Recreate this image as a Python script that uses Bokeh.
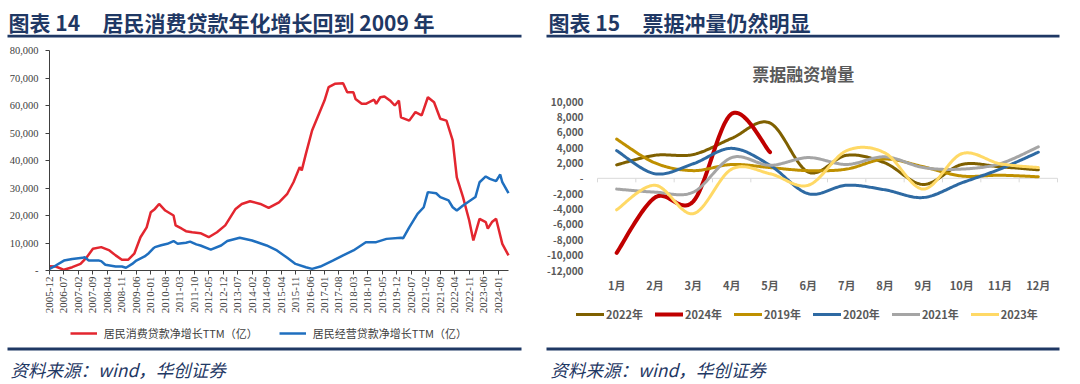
import numpy as np
from bokeh.plotting import figure
from bokeh.models import Range1d, FixedTicker, Label, BoxAnnotation, Legend, LegendItem
from bokeh.layouts import row
from bokeh.embed import file_html
from bokeh.resources import INLINE

# ---------------- 图表14 data ----------------
cons_dates = ["2005-12", "2006-03", "2006-07", "2006-11", "2007-03", "2007-06", "2007-09", "2008-01",
              "2008-05", "2008-08", "2008-11", "2009-02", "2009-05", "2009-08", "2009-11", "2010-01",
              "2010-03", "2010-05", "2010-08", "2010-12", "2011-01", "2011-04", "2011-06", "2011-09",
              "2012-01", "2012-05", "2012-09", "2013-01", "2013-02", "2013-06", "2013-09", "2014-01",
              "2014-06", "2014-10", "2015-03", "2015-07", "2015-10", "2016-01", "2016-02", "2016-04",
              "2016-07", "2016-11", "2017-01", "2017-03", "2017-06", "2017-10", "2017-12", "2018-03",
              "2018-04", "2018-07", "2018-09", "2019-01", "2019-02", "2019-04", "2019-06", "2019-09",
              "2019-11", "2020-01", "2020-02", "2020-06", "2020-09", "2020-12", "2021-03", "2021-06",
              "2021-09", "2021-12", "2022-03", "2022-05", "2022-08", "2022-11", "2023-01", "2023-04",
              "2023-07", "2023-08", "2023-10", "2023-12", "2024-03", "2024-06"]
cons_vals = [1560, 1450, 250, 1200, 2400, 4800, 7900, 8500,
             7300, 5500, 3900, 3900, 6100, 12100, 15700, 21200,
             22400, 24200, 21800, 20000, 16400, 15200, 14300, 13900,
             13560, 12100, 13900, 16400, 17600, 22400, 24200, 25200,
             24200, 22800, 24800, 27900, 32100, 37600, 36400, 42400,
             50900, 58200, 61800, 66700, 67900, 68100, 64800, 64800,
             62400, 60600, 60600, 62100, 60600, 63000, 63300, 61600,
             60000, 61800, 55700, 54500, 57600, 56400, 63000, 61200,
             55200, 54500, 47300, 33900, 26700, 18200, 10900, 18800,
             17600, 15200, 17600, 18800, 9700, 5500]

biz_dates = ["2005-12", "2006-03", "2006-07", "2006-11", "2007-04", "2007-05", "2007-07", "2007-12",
             "2008-01", "2008-03", "2008-08", "2008-11", "2009-01", "2009-04", "2009-06", "2009-10",
             "2009-12", "2010-02", "2010-03", "2010-06", "2010-09", "2010-12", "2011-02", "2011-06",
             "2011-08", "2011-11", "2012-01", "2012-06", "2012-11", "2013-02", "2013-08", "2014-02",
             "2014-09", "2015-02", "2015-07", "2015-11", "2016-04", "2016-07", "2016-11", "2017-05",
             "2017-10", "2018-03", "2018-09", "2019-02", "2019-07", "2020-02", "2020-03", "2020-06",
             "2020-10", "2021-01", "2021-03", "2021-07", "2021-09", "2022-01", "2022-03", "2022-05",
             "2022-08", "2022-11", "2023-02", "2023-04", "2023-07", "2023-09", "2023-12", "2024-02",
             "2024-03", "2024-06"]
biz_vals = [600, 1800, 3600, 4200, 4600, 4800, 3600, 3600,
            3400, 2100, 1450, 1450, 1000, 2400, 3600, 5100,
            6300, 7900, 8500, 9200, 9700, 10700, 9700, 10100,
            10500, 9500, 9100, 7600, 9100, 10700, 11900, 10900,
            9100, 7300, 4600, 2400, 1200, 600, 1450, 3600,
            5500, 7300, 10300, 10300, 11500, 11900, 11700, 15700,
            20600, 23000, 28500, 28100, 26700, 25500, 23000, 21800,
            23600, 25200, 26700, 32100, 34200, 33300, 32500, 34900,
            32100, 28100]

left_xtick_labels = ["2005-12", "2006-07", "2007-02", "2007-09", "2008-04", "2008-11", "2009-06", "2010-01",
                     "2010-08", "2011-03", "2011-10", "2012-05", "2012-12", "2013-07", "2014-02", "2014-09",
                     "2015-04", "2015-11", "2016-06", "2017-01", "2017-08", "2018-03", "2018-10", "2019-05",
                     "2019-12", "2020-07", "2021-02", "2021-09", "2022-04", "2022-11", "2023-06", "2024-01"]
left_ytick_values = [0, 10000, 20000, 30000, 40000, 50000, 60000, 70000, 80000]
left_ytick_labels = ["-", "10,000", "20,000", "30,000", "40,000", "50,000", "60,000", "70,000", "80,000"]
left_series_names = ["居民消费贷款净增长TTM（亿）", "居民经营贷款净增长TTM（亿）"]

# ---------------- 图表15 data ----------------
month_labels = ["1月", "2月", "3月", "4月", "5月", "6月", "7月", "8月", "9月", "10月", "11月", "12月"]
bill_2022 = [1750, 3000, 3100, 5200, 7200, 800, 3000, 2000, -800, 1800, 1500, 1100]
bill_2024 = [-9700, -2500, -3000, 8400, 3400]
bill_2019 = [5100, 2000, 1000, 1800, 1400, 1000, 1200, 2500, 1500, 300, 400, 200]
bill_2020 = [3600, 600, 1900, 3900, 1700, -2000, -900, -1500, -2500, -600, 1200, 3400]
bill_2021 = [-1400, -1800, -1800, 2700, 1700, 2700, 1800, 2800, 1400, 1200, 1900, 4100]
bill_2023 = [-4100, -900, -4600, 1200, 600, -900, 3600, 3300, -1400, 3200, 1900, 1400]
right_series_names = ["2022年", "2024年", "2019年", "2020年", "2021年", "2023年"]
right_ytick_values = [-12000, -10000, -8000, -6000, -4000, -2000, 0, 2000, 4000, 6000, 8000, 10000]
right_ytick_labels = ["-12,000", "-10,000", "-8,000", "-6,000", "-4,000", "-2,000", "-",
                      "2,000", "4,000", "6,000", "8,000", "10,000"]

# ---------------- helpers ----------------
NAVY = "#1F3864"
CJK = "Noto Sans CJK SC"
GRAY = "#595959"
PAGE_H = 384
PANEL_W = 540


def midx(s):
    y, m = s.split("-")
    return (int(y) - 2005) * 12 + int(m) - 12


def excel_smooth(xs, ys, n=30):
    xs = np.asarray(xs, float)
    ys = np.asarray(ys, float)
    px = np.concatenate([[xs[0]], xs, [xs[-1]]])
    py = np.concatenate([[ys[0]], ys, [ys[-1]]])
    t = np.linspace(0, 1, n + 1)[1:]
    ox, oy = [xs[0]], [ys[0]]
    for i in range(len(xs) - 1):
        p0 = np.array([px[i], py[i]]); p1 = np.array([px[i + 1], py[i + 1]])
        p2 = np.array([px[i + 2], py[i + 2]]); p3 = np.array([px[i + 3], py[i + 3]])
        c1 = p1 + (p2 - p0) / 6.0
        c2 = p2 - (p3 - p1) / 6.0
        b = ((1 - t) ** 3)[:, None] * p1 + (3 * (1 - t) ** 2 * t)[:, None] * c1 \
            + (3 * (1 - t) * t ** 2)[:, None] * c2 + (t ** 3)[:, None] * p2
        ox.extend(b[:, 0]); oy.extend(b[:, 1])
    return ox, oy


def panel_figure(page_x0, plot_l, plot_r, plot_t, plot_b, x_lo, x_hi, y_lo, y_hi):
    """Figure whose frame is the whole panel canvas; the chart's plot area (page pixels
    plot_l..plot_r, plot_t..plot_b) maps to data x_lo..x_hi, y_lo..y_hi."""
    kx = (x_hi - x_lo) / (plot_r - plot_l)
    ky = (y_hi - y_lo) / (plot_b - plot_t)
    xr = (x_lo - (plot_l - page_x0) * kx, x_hi + (page_x0 + PANEL_W - plot_r) * kx)
    yr = (y_lo - (PAGE_H - plot_b) * ky, y_hi + plot_t * ky)
    p = figure(title=None, frame_width=PANEL_W, frame_height=PAGE_H, min_border=0,
               min_border_left=0, min_border_right=0, min_border_top=0, min_border_bottom=0,
               x_range=Range1d(*xr), y_range=Range1d(*yr), output_backend="svg", toolbar_location=None)
    p.outline_line_color = None
    p.xgrid.visible = False
    p.ygrid.visible = False
    p.background_fill_color = "white"
    p.border_fill_color = "white"

    def mx(px):
        return xr[0] + (px - page_x0) * kx

    def my(py):
        return yr[1] - py * ky
    return p, mx, my


def add_decor(p, mx, my, x0, title_a, title_b, rule_l, rule_r):
    for txt, px in ((title_a, x0 + 8), (title_b, x0 + 102)):
        p.add_layout(Label(x=mx(px), y=my(21.5), text=txt, text_font=CJK, text_font_size="21px",
                           text_font_style="bold", text_color=NAVY, text_baseline="middle",
                           text_align="left"))
    for yc in (35.7, 348.5):
        p.add_layout(BoxAnnotation(left=mx(rule_l), right=mx(rule_r), top=my(yc - 1.4), bottom=my(yc + 1.4),
                                   fill_color=NAVY, fill_alpha=1.0, line_color=None, level="overlay"))
    p.add_layout(Label(x=mx(x0 + 10), y=my(369), text="资料来源：wind，华创证券", text_font=CJK,
                       text_font_size="17.5px", text_font_style="italic", text_color=NAVY,
                       text_baseline="middle", text_align="left"))


# ---------------- left chart ----------------
pL, mxL, myL = panel_figure(0, 49, 508, 50, 270, 0, 222, 0, 80000)

xa = pL.xaxis[0]
xa.fixed_location = 0
xa.bounds = (0, 222)
xa.ticker = FixedTicker(ticks=[midx(s) for s in left_xtick_labels])
xa.major_label_overrides = {midx(s): s for s in left_xtick_labels}
xa.major_label_orientation = np.pi / 2
xa.major_label_standoff = 2
xa.major_tick_out = 4
xa.major_tick_in = 0
xa.minor_tick_line_color = None
xa.axis_line_color = "#404040"
xa.major_tick_line_color = "#404040"
xa.major_label_text_font = "Liberation Serif"
xa.major_label_text_font_size = "11px"
xa.major_label_text_color = "#404040"

ya = pL.yaxis[0]
ya.fixed_location = 0
ya.bounds = (0, 80000)
ya.ticker = FixedTicker(ticks=left_ytick_values)
ya.major_label_overrides = dict(zip(left_ytick_values, left_ytick_labels))
ya.major_tick_out = 4
ya.major_tick_in = 0
ya.major_label_standoff = 7
ya.minor_tick_line_color = None
ya.axis_line_color = "#404040"
ya.major_tick_line_color = "#404040"
ya.major_label_text_font = "Liberation Serif"
ya.major_label_text_font_size = "10.5px"
ya.major_label_text_color = "#404040"

r_cons = pL.line([midx(d) for d in cons_dates], cons_vals, line_color="#E3262F", line_width=2.5)
r_biz = pL.line([midx(d) for d in biz_dates], biz_vals, line_color="#1F6FBF", line_width=2.5)

add_decor(pL, mxL, myL, 0, "图表 14", "居民消费贷款年化增长回到 2009 年", 7, 521)

legL = Legend(items=[LegendItem(label=left_series_names[0], renderers=[r_cons]),
                     LegendItem(label=left_series_names[1], renderers=[r_biz])],
              orientation="horizontal", location=(69.7, PAGE_H - 341),
              glyph_width=27, glyph_height=14, label_height=14, label_standoff=7, spacing=21,
              padding=0, margin=0, border_line_color=None, background_fill_alpha=0,
              label_text_font=CJK, label_text_font_size="11px", label_text_color="#404040",
              label_text_baseline="middle")
pL.add_layout(legL)

# ---------------- right chart ----------------
pR, mxR, myR = panel_figure(PANEL_W, 597, 1057, 101, 270, 0.5, 12.5, -12000, 10000)

xb = pR.xaxis[0]
xb.fixed_location = -12000
xb.bounds = (0.5, 12.5)
xb.ticker = FixedTicker(ticks=list(range(1, 13)))
xb.major_label_overrides = {i + 1: m for i, m in enumerate(month_labels)}
xb.axis_line_color = None
xb.major_tick_line_color = None
xb.minor_tick_line_color = None
xb.major_tick_out = 0
xb.major_tick_in = 0
xb.major_label_standoff = 6
xb.major_label_text_font = CJK
xb.major_label_text_font_style = "bold"
xb.major_label_text_font_size = "11px"
xb.major_label_text_color = GRAY

yb = pR.yaxis[0]
yb.fixed_location = 0.5
yb.bounds = (-12000, 10000)
yb.ticker = FixedTicker(ticks=right_ytick_values)
yb.major_label_overrides = dict(zip(right_ytick_values, right_ytick_labels))
yb.axis_line_color = None
yb.major_tick_line_color = None
yb.minor_tick_line_color = None
yb.major_tick_out = 0
yb.major_tick_in = 0
yb.major_label_standoff = 14
yb.major_label_text_font = CJK
yb.major_label_text_font_style = "bold"
yb.major_label_text_font_size = "10px"
yb.major_label_text_color = GRAY

# zero line with category-boundary tick marks (Excel horizontal axis crossing at 0)
bounds = [i + 0.5 for i in range(len(month_labels) + 1)]
tick_len = myR(0) - myR(4)
pR.segment(x0=[bounds[0]], y0=[0], x1=[bounds[-1]], y1=[0], line_color="#D9D9D9", line_width=1,
           level="underlay")
pR.segment(x0=bounds, y0=[0] * len(bounds), x1=bounds, y1=[-tick_len] * len(bounds),
           line_color="#D9D9D9", line_width=1, level="underlay")

right_series = [bill_2022, bill_2024, bill_2019, bill_2020, bill_2021, bill_2023]
right_colors = ["#7F6000", "#C00000", "#BF9000", "#2E6AA3", "#A5A5A5", "#FFD966"]
right_widths = [3, 4, 3, 3, 3, 3]
rends = []
for vals, col, lw in zip(right_series, right_colors, right_widths):
    xs = list(range(1, len(vals) + 1))
    cx, cy = excel_smooth(xs, vals)
    rends.append(pR.line(cx, cy, line_color=col, line_width=lw, line_join="round", line_cap="round"))

add_decor(pR, mxR, myR, PANEL_W, "图表 15", "票据冲量仍然明显", 546, 1059)

pR.add_layout(Label(x=mxR(802.7), y=myR(72.7), text="票据融资增量", text_font=CJK, text_font_size="17px",
                    text_font_style="bold", text_color=GRAY, text_baseline="middle", text_align="center"))

legR = Legend(items=[LegendItem(label=n, renderers=[r]) for n, r in zip(right_series_names, rends)],
              orientation="horizontal", location=(576 - PANEL_W, PAGE_H - 322),
              glyph_width=28, glyph_height=14, label_height=14, label_standoff=2, spacing=12,
              padding=0, margin=0, border_line_color=None, background_fill_alpha=0,
              label_text_font=CJK, label_text_font_style="bold", label_text_font_size="11px",
              label_text_color=GRAY, label_text_baseline="middle")
pR.add_layout(legR)

layout = row(pL, pR)
open("out.html", "w").write(file_html(layout, INLINE))
